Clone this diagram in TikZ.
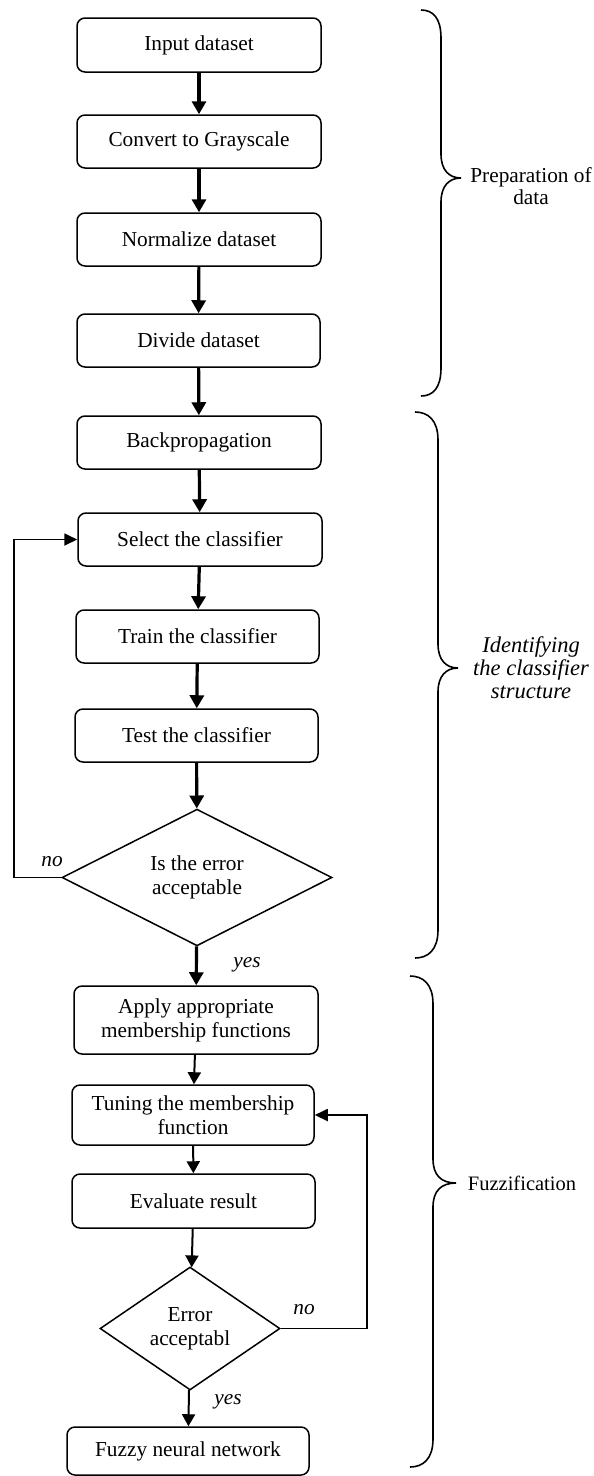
\documentclass[tikz,border=0pt]{standalone}
\usepackage{fontspec}
\setmainfont{Liberation Serif}
\usetikzlibrary{shapes.geometric,arrows.meta}
\begin{document}
\begin{tikzpicture}[x=1pt,y=-1pt,
  txt/.style={font=\fontsize{21.3}{24}\selectfont},
  box/.style={draw, line width=1.5pt, rounded corners=8pt, align=center, inner sep=0pt, txt},
  dia/.style={draw, diamond, line width=1.5pt, align=center, inner sep=0pt, txt},
  bigarrow/.style={line width=3.2pt, -{Triangle[width=14pt,length=13pt]}},
  smallarrow/.style={line width=2pt, -{Triangle[width=13pt,length=12pt]}},
  loopline/.style={line width=1.8pt, -{Triangle[width=12pt,length=13pt]}},
  lbl/.style={font=\fontsize{21.3}{24}\selectfont\itshape, inner sep=0pt},
  bracelbl/.style={align=center, inner sep=0pt},
  braceline/.style={line width=1.6pt}
]
\useasboundingbox (0,0) rectangle (594,1476);

% boxes
\node[box, minimum width=244pt, minimum height=54pt] (in)    at (199,45)    {Input dataset};
\node[box, minimum width=244pt, minimum height=53pt] (gray)  at (199,141.5) {Convert to Grayscale};
\node[box, minimum width=244pt, minimum height=53pt] (norm)  at (199,239.5) {Normalize dataset};
\node[box, minimum width=243pt, minimum height=53pt] (div)   at (198.5,340.5) {Divide dataset};
\node[box, minimum width=244pt, minimum height=53pt] (bp)    at (199,442.5) {Backpropagation};
\node[box, minimum width=244pt, minimum height=53pt] (sel)   at (200,539.5) {Select the classifier};
\node[box, minimum width=243pt, minimum height=53pt] (train) at (197.5,636.5) {Train the classifier};
\node[box, minimum width=243pt, minimum height=53pt] (test)  at (196.5,735.5) {Test the classifier};
\node[dia, minimum width=270pt, minimum height=135pt] (d1) at (197,877.5) {Is the error\\acceptable};
\node[box, minimum width=244pt, minimum height=68pt] (apply) at (196,1020) {Apply appropriate\\membership functions};
\node[box, minimum width=242pt, minimum height=60pt] (tune)  at (193,1115) {Tuning the membership\\function};
\node[box, minimum width=243pt, minimum height=54pt] (eval)  at (193.5,1201) {Evaluate result};
\node[dia, minimum width=180pt, minimum height=123pt] (d2) at (190,1328.5) {Error\\acceptabl};
\node[box, minimum width=242pt, minimum height=48pt] (fuzzy) at (188,1451) {Fuzzy neural network};

% main flow
\draw[bigarrow] (in) -- (gray);
\draw[bigarrow] (gray) -- (norm);
\draw[bigarrow] (norm) -- (div);
\draw[bigarrow] (div) -- (bp);
\draw[bigarrow] (bp) -- (sel);
\draw[bigarrow] (sel) -- (train);
\draw[bigarrow] (train) -- (test);
\draw[bigarrow] (test) -- (d1);
\draw[bigarrow] (d1) -- (apply);
\draw[smallarrow] (apply) -- (tune);
\draw[smallarrow] (tune) -- (eval);
\draw[smallarrow] (eval) -- (d2);
\draw[smallarrow] (d2) -- (fuzzy);

% loops
\coordinate (l1) at (14,877.5);
\draw[loopline] (d1.west) -- (l1) |- (sel.west);
\coordinate (l2) at (367,1328.5);
\draw[loopline] (d2.east) -- (l2) |- (tune.east);

% labels
\node[lbl] (no1)  at (52,862)   {no};
\node[lbl] (yes1) at (247,965)  {yes};
\node[lbl] (no2)  at (304,1310) {no};
\node[lbl] (yes2) at (228,1402) {yes};

% braces
\draw[braceline] (421,10) .. controls (433,10) and (441,18) .. (441,38)
  -- (441,154) .. controls (441,170) and (449,178) .. (461,178)
  .. controls (449,178) and (441,186) .. (441,202)
  -- (441,368) .. controls (441,388) and (433,396) .. (421,396);
\draw[braceline] (415,412) .. controls (428,412) and (438,420) .. (438,440)
  -- (438,644) .. controls (438,660) and (446,668) .. (458,668)
  .. controls (446,668) and (438,676) .. (438,692)
  -- (438,930) .. controls (438,950) and (428,958) .. (415,958);
\draw[braceline] (410,976) .. controls (423,976) and (433,984) .. (433,1004)
  -- (433,1159) .. controls (433,1175) and (441,1183) .. (456,1183)
  .. controls (441,1183) and (433,1191) .. (433,1207)
  -- (433,1439) .. controls (433,1459) and (423,1467) .. (410,1467);

\node[bracelbl, font=\fontsize{21.3}{22}\selectfont] (t1) at (531,186) {Preparation of\\data};
\node[bracelbl, font=\fontsize{22.5}{23}\selectfont\itshape] (t2) at (531,668) {Identifying\\the classifier\\structure};
\node[bracelbl, font=\fontsize{20.5}{22}\selectfont] (t3) at (522,1183) {Fuzzification};
\end{tikzpicture}
\end{document}
